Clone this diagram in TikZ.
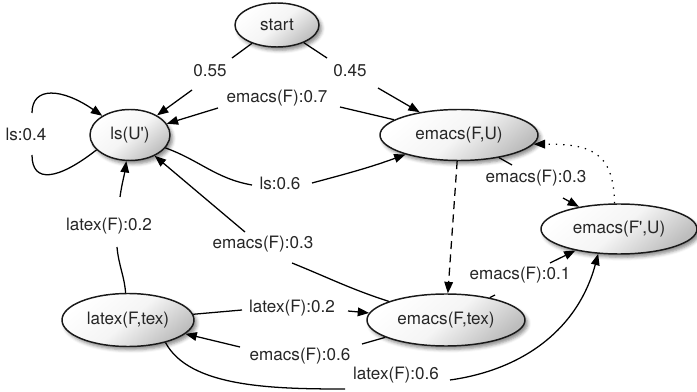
\documentclass[tikz,border=0pt]{standalone}
\usepackage{fontspec}
\setmainfont{TeX Gyre Heros}
\usetikzlibrary{shapes.geometric,arrows.meta,calc,shadows.blur}

\begin{document}
\begin{tikzpicture}[x=0.75pt,y=-0.75pt,
  state/.style={ellipse, draw=black!90, line width=1.1pt, inner sep=0pt,
    top color=white, bottom color=black!26, middle color=black!4, shading angle=40,
    blur shadow={shadow xshift=2pt, shadow yshift=-2.5pt, shadow blur radius=2.5pt, shadow opacity=45},
    font=\fontsize{12.8}{15}\selectfont, text=black!85},
  lbl/.style={inner sep=0pt, font=\fontsize{12.8}{15}\selectfont, text=black!85},
  edge/.style={line width=0.95pt, black},
  arr/.style={edge, -{Triangle[length=8.5pt,width=6.5pt]}},
  dotarr/.style={arr, dash pattern=on 1pt off 4.5pt},
  dasharr/.style={arr, dash pattern=on 6pt off 4pt},
]
\useasboundingbox (0,0) rectangle (697,392);

% states
\node[state, minimum width=63pt,   minimum height=33pt]   (start)  at (277,25)  {start};
\node[state, minimum width=60pt,   minimum height=38.25pt] (ls)    at (130,135) {ls(U\textquotesingle)};
\node[state, minimum width=118.5pt, minimum height=38.25pt] (emFU) at (459,135) {emacs(F,U)};
\node[state, minimum width=117pt,  minimum height=37.5pt] (emFpU)  at (619,229) {emacs(F\textquotesingle,U)};
\node[state, minimum width=118.5pt, minimum height=39pt]  (emFtex) at (446,320) {emacs(F,tex)};
\node[state, minimum width=99pt,   minimum height=39.75pt] (latex) at (128,320) {latex(F,tex)};

% transition labels
\node[lbl] (l055) at (210,71)  {0.55};
\node[lbl] (l045) at (350,71)  {0.45};
\node[lbl] (l07)  at (277,98)  {emacs(F):0.7};
\node[lbl] (l06)  at (280,183) {ls:0.6};
\node[lbl] (l04)  at (26,134)  {ls:0.4};
\node[lbl] (l02a) at (109,226) {latex(F):0.2};
\node[lbl] (l03b) at (263,244) {emacs(F):0.3};
\node[lbl] (l02b) at (292,308) {latex(F):0.2};
\node[lbl] (l06b) at (300,356) {emacs(F):0.6};
\node[lbl] (l06c) at (396,375) {latex(F):0.6};
\node[lbl] (l03a) at (536,178) {emacs(F):0.3};
\node[lbl] (l01)  at (520,275) {emacs(F):0.1};

% start
\draw[edge] (start) -- ($(l055)+(22,-13)$);
\draw[arr]  ($(l055)+(-18,19)$) -- (ls);
\draw[edge] (start) -- ($(l045)+(-23,-13)$);
\draw[arr]  ($(l045)+(28,17)$) -- (emFU);

% between ls(U') and emacs(F,U)
\draw[edge] (emFU) -- ($(l07)+(63,9)$);
\draw[arr]  ($(l07)+(-59,10)$) -- (ls);
\draw[edge] (ls) to[out=-20,in=170] ($(l06)+(-28,2)$);
\draw[arr]  ($(l06)+(32,0)$) to[out=15,in=-160] (emFU);

% self loop on ls(U')
\draw[edge] (ls.204) .. controls (58,180) and (32,184) .. ($(l04)+(6,21)$);
\draw[arr]  ($(l04)+(6,-21)$) .. controls (32,86) and (62,88) .. (ls);

% back to ls(U')
\draw[edge] (latex) to[out=95,in=-85] ($(l02a)+(8,21)$);
\draw[arr]  ($(l02a)+(11,-29)$) to[out=82,in=-98] (ls);
\draw[edge] (emFtex) to[out=162,in=-22] ($(l03b)+(29,19)$);
\draw[arr]  ($(l03b)+(-18,-12)$) -- (ls);

% between latex(F,tex) and emacs(F,tex)
\draw[edge] (latex) -- ($(l02b)+(-50,2)$);
\draw[arr]  ($(l02b)+(56,3)$) -- (emFtex);
\draw[edge] (emFtex) -- ($(l06b)+(62,-12)$);
\draw[arr]  ($(l06b)+(-60,-9)$) -- (latex);

% into emacs(F',U)
\draw[edge] (latex.-31) to[out=-62,in=180,out distance=38pt] ($(l06c)+(-51,14)$);
\draw[arr]  ($(l06c)+(54,5)$) to[out=8,in=-105] (emFpU.-130);
\draw[edge] (emFU) -- ($(l03a)+(-24,-13)$);
\draw[arr]  ($(l03a)+(27,20)$) -- (emFpU);
\draw[edge] (emFtex) -- ($(l01)+(-25,20)$);
\draw[arr]  ($(l01)+(30,-12)$) -- (emFpU);

% unlabelled transitions
\draw[dotarr]  (emFpU.100) .. controls (614,150) and (588,144) .. (emFU.-7);
\draw[dasharr] (emFU) -- (emFtex);
\end{tikzpicture}
\end{document}
